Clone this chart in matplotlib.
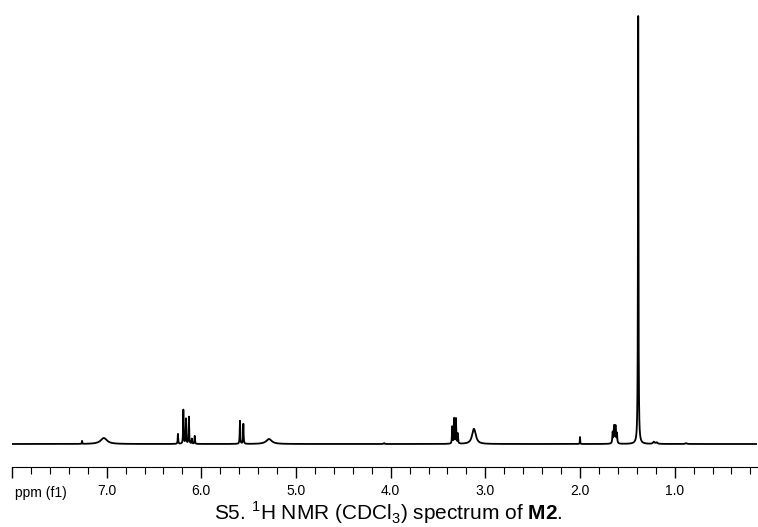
import numpy as np
import matplotlib.pyplot as plt
from matplotlib.ticker import MultipleLocator, FuncFormatter

plt.rcParams['font.family'] = ['Liberation Sans', 'DejaVu Sans']
plt.rcParams['mathtext.fontset'] = 'custom'
plt.rcParams['mathtext.rm'] = 'Liberation Sans'
plt.rcParams['mathtext.bf'] = 'Liberation Sans:bold'

# peak list: shift (ppm), height (rel.), half width (ppm)
shifts = [7.26, 7.03, 6.247, 6.19, 6.163, 6.131, 6.10, 6.07,
          5.592, 5.556, 5.285, 4.07,
          3.35, 3.33, 3.31, 3.29, 3.125, 3.11,
          2.00, 1.655, 1.64, 1.625, 1.61, 1.385,
          1.22, 1.19, 0.88]
heights = [3, 6, 10, 34, 25, 27, 5, 8,
           23, 20, 5, 1,
           17, 25, 25, 10, 11, 6,
           7, 11, 17, 17, 10, 428,
           2, 1.5, 0.8]
widths = [0.002, 0.04, 0.003, 0.003, 0.003, 0.003, 0.003, 0.003,
          0.003, 0.003, 0.035, 0.005,
          0.003, 0.003, 0.003, 0.003, 0.02, 0.02,
          0.002, 0.004, 0.004, 0.004, 0.004, 0.003,
          0.01, 0.01, 0.01]

ppm = np.linspace(8.0, 0.1, 40000)
intensity = np.zeros_like(ppm)
for s, h, w in zip(shifts, heights, widths):
    intensity += h / (1 + ((ppm - s) / w) ** 2)

fig = plt.figure(figsize=(7.58, 5.27), dpi=100)
ax = fig.add_axes([12 / 758, 60 / 527, 745 / 758, 457 / 527])
ax.plot(ppm, intensity, color='black', lw=1.3)

ax.set_xlim(8.0, 0.13)
ax.set_ylim(-23, 434)
for side in ['top', 'left', 'right']:
    ax.spines[side].set_visible(False)
ax.set_yticks([])
ax.xaxis.set_major_locator(MultipleLocator(1.0))
ax.xaxis.set_minor_locator(MultipleLocator(0.2))
ax.xaxis.set_major_formatter(FuncFormatter(lambda v, p: '' if v > 7.5 else f'{v:.1f}'))
ax.tick_params(axis='x', which='major', length=8, width=1, labelsize=10, pad=4)
ax.tick_params(axis='x', which='minor', length=5, width=0.8)

fig.text(15 / 758, 1 - 493 / 527, 'ppm (f1)', fontsize=10, va='center', ha='left')
fig.text(388 / 758, 1 - 513 / 527,
         r'S5. $^{1}$H NMR (CDCl$_{3}$) spectrum of $\mathbf{M2}$.',
         fontsize=15, ha='center', va='center')

fig.savefig('out.png', dpi=100)
